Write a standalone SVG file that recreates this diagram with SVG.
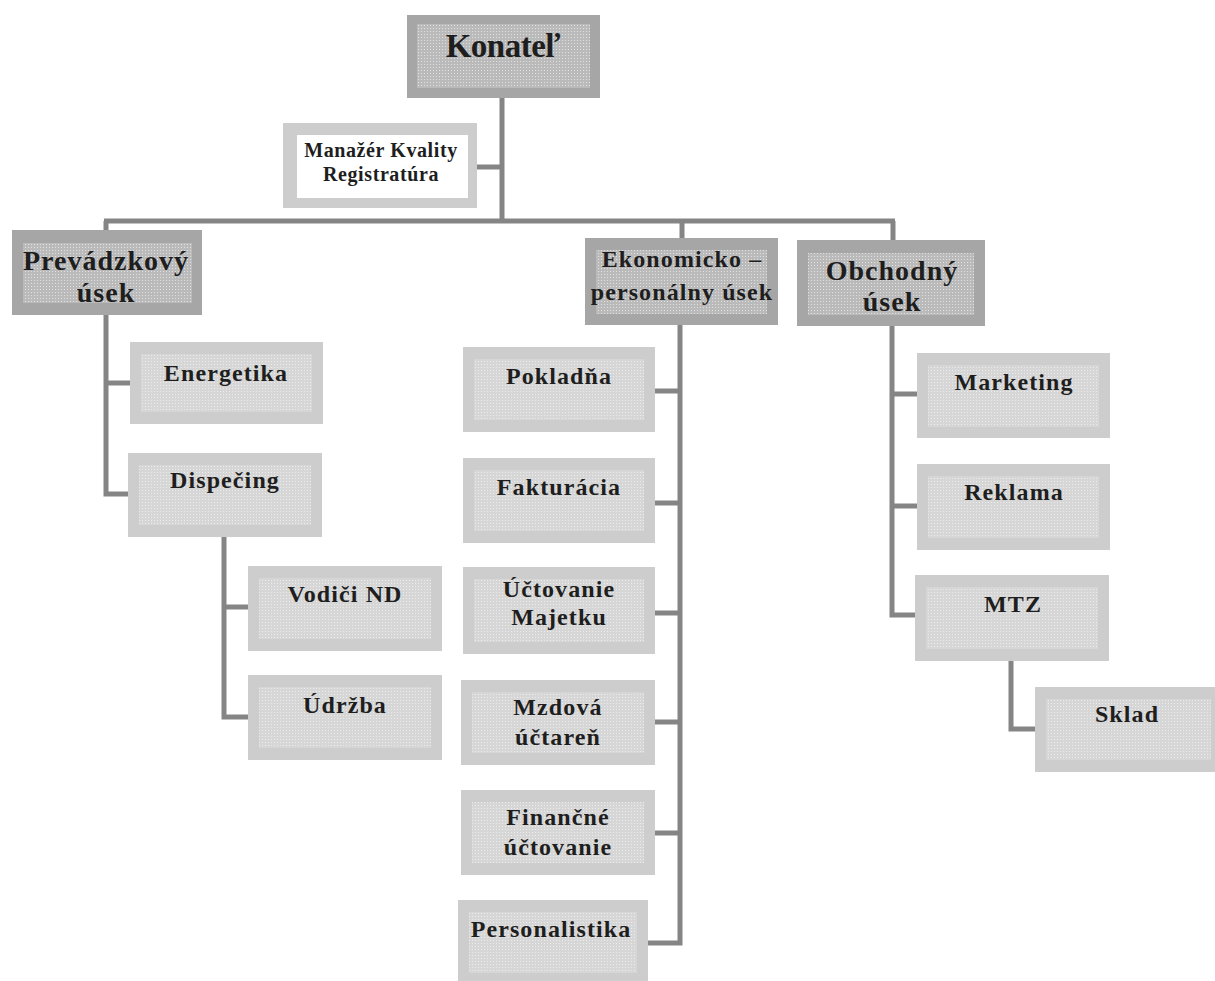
<svg xmlns="http://www.w3.org/2000/svg" width="1215" height="981" viewBox="0 0 1215 981">
<defs>
<pattern id="dotDark" width="3" height="3" patternUnits="userSpaceOnUse">
<rect width="3" height="3" fill="#bababa"/>
<rect x="1" y="1" width="1" height="1" fill="#e0e0e0"/>
</pattern>
<pattern id="dotLight" width="3" height="3" patternUnits="userSpaceOnUse">
<rect width="3" height="3" fill="#d6d6d6"/>
<rect x="1" y="1" width="1" height="1" fill="#ececec"/>
</pattern>
<style>
.o1{fill:#a6a6a6}
.i1{fill:url(#dotDark)}
.o2{fill:#cdcdcd}
.i2{fill:url(#dotLight)}
.iw{fill:#ffffff}
.c{fill:none;stroke:#858585;stroke-width:5}
text{font-family:"Liberation Serif","Times New Roman",serif;font-weight:bold;fill:#1e1e1e;text-anchor:middle}
.t1{font-size:33px;letter-spacing:-0.5px}
.t2{font-size:28px;letter-spacing:1px}
.t3{font-size:24px;letter-spacing:1.1px}
.t4{font-size:20px;letter-spacing:0.6px}
</style>
</defs>
<rect width="1215" height="981" fill="#ffffff"/>

<g id="connectors">
<path class="c" d="M502 98 V221"/>
<path class="c" d="M477 167 H502"/>
<path class="c" d="M104 221 H895"/>
<path class="c" d="M682 221 V238"/>
<path class="c" d="M893 221 V240"/>
<path class="c" d="M106 221 V230"/>
<path class="c" d="M106 315 V494 H128"/>
<path class="c" d="M106 383 H130"/>
<path class="c" d="M224 537 V717 H248"/>
<path class="c" d="M224 607 H248"/>
<path class="c" d="M680 325 V943 H648"/>
<path class="c" d="M655 391 H680"/>
<path class="c" d="M655 503 H680"/>
<path class="c" d="M655 613 H680"/>
<path class="c" d="M655 722 H680"/>
<path class="c" d="M655 833 H680"/>
<path class="c" d="M892 325 V615 H915"/>
<path class="c" d="M892 394 H917"/>
<path class="c" d="M892 506 H917"/>
<path class="c" d="M1011 661 V729 H1035"/>
</g>

<g id="konatel">
<rect class="o1" x="407" y="15" width="193" height="83"/>
<rect class="i1" x="417" y="24" width="173" height="64"/>
<text class="t1" x="503" y="57">Konateľ</text>
</g>

<g id="manazer">
<rect class="o2" x="283" y="123" width="194" height="85"/>
<rect class="iw" x="297" y="135" width="171" height="63"/>
<text class="t4" x="381" y="157">Manažér Kvality</text>
<text class="t4" x="381" y="181">Registratúra</text>
</g>

<g id="prevadzkovy">
<rect class="o1" x="12" y="230" width="190" height="85"/>
<rect class="i1" x="23" y="243" width="169" height="60"/>
<text class="t2" x="106" y="270">Prevádzkový</text>
<text class="t2" x="106" y="302">úsek</text>
</g>

<g id="ekonomicko">
<rect class="o1" x="585" y="238" width="193" height="87"/>
<rect class="i1" x="596" y="250" width="171" height="64"/>
<text class="t3" x="682" y="267">Ekonomicko –</text>
<text class="t3" x="682" y="300">personálny úsek</text>
</g>

<g id="obchodny">
<rect class="o1" x="797" y="240" width="188" height="86"/>
<rect class="i1" x="808" y="253" width="166" height="62"/>
<text class="t2" x="892" y="280">Obchodný</text>
<text class="t2" x="892" y="311">úsek</text>
</g>

<g id="energetika">
<rect class="o2" x="130" y="342" width="193" height="82"/>
<rect class="i2" x="141" y="354" width="171" height="58"/>
<text class="t3" x="226" y="381">Energetika</text>
</g>

<g id="dispecing">
<rect class="o2" x="128" y="453" width="194" height="84"/>
<rect class="i2" x="139" y="465" width="172" height="60"/>
<text class="t3" x="225" y="488">Dispečing</text>
</g>

<g id="vodici">
<rect class="o2" x="248" y="566" width="194" height="85"/>
<rect class="i2" x="259" y="578" width="172" height="61"/>
<text class="t3" x="345" y="602">Vodiči ND</text>
</g>

<g id="udrzba">
<rect class="o2" x="248" y="675" width="194" height="85"/>
<rect class="i2" x="259" y="687" width="172" height="61"/>
<text class="t3" x="345" y="713">Údržba</text>
</g>

<g id="pokladna">
<rect class="o2" x="463" y="347" width="192" height="85"/>
<rect class="i2" x="474" y="359" width="170" height="61"/>
<text class="t3" x="559" y="384">Pokladňa</text>
</g>

<g id="fakturacia">
<rect class="o2" x="463" y="458" width="192" height="85"/>
<rect class="i2" x="474" y="470" width="170" height="61"/>
<text class="t3" x="559" y="495">Fakturácia</text>
</g>

<g id="uctovanie">
<rect class="o2" x="463" y="567" width="192" height="87"/>
<rect class="i2" x="474" y="579" width="170" height="63"/>
<text class="t3" x="559" y="597">Účtovanie</text>
<text class="t3" x="559" y="625">Majetku</text>
</g>

<g id="mzdova">
<rect class="o2" x="461" y="680" width="194" height="85"/>
<rect class="i2" x="472" y="692" width="172" height="61"/>
<text class="t3" x="558" y="715">Mzdová</text>
<text class="t3" x="558" y="745">účtareň</text>
</g>

<g id="financne">
<rect class="o2" x="461" y="790" width="194" height="85"/>
<rect class="i2" x="472" y="802" width="172" height="61"/>
<text class="t3" x="558" y="825">Finančné</text>
<text class="t3" x="558" y="855">účtovanie</text>
</g>

<g id="personalistika">
<rect class="o2" x="458" y="900" width="190" height="85"/>
<rect class="i2" x="469" y="912" width="168" height="61"/>
<text class="t3" x="551" y="937">Personalistika</text>
</g>

<g id="marketing">
<rect class="o2" x="917" y="353" width="193" height="85"/>
<rect class="i2" x="928" y="365" width="171" height="62"/>
<text class="t3" x="1014" y="390">Marketing</text>
</g>

<g id="reklama">
<rect class="o2" x="917" y="464" width="193" height="86"/>
<rect class="i2" x="928" y="476" width="171" height="62"/>
<text class="t3" x="1014" y="500">Reklama</text>
</g>

<g id="mtz">
<rect class="o2" x="915" y="575" width="194" height="86"/>
<rect class="i2" x="926" y="587" width="172" height="62"/>
<text class="t3" x="1013" y="612">MTZ</text>
</g>

<g id="sklad">
<rect class="o2" x="1035" y="687" width="185" height="85"/>
<rect class="i2" x="1046" y="699" width="165" height="61"/>
<text class="t3" x="1127" y="722">Sklad</text>
</g>
</svg>
